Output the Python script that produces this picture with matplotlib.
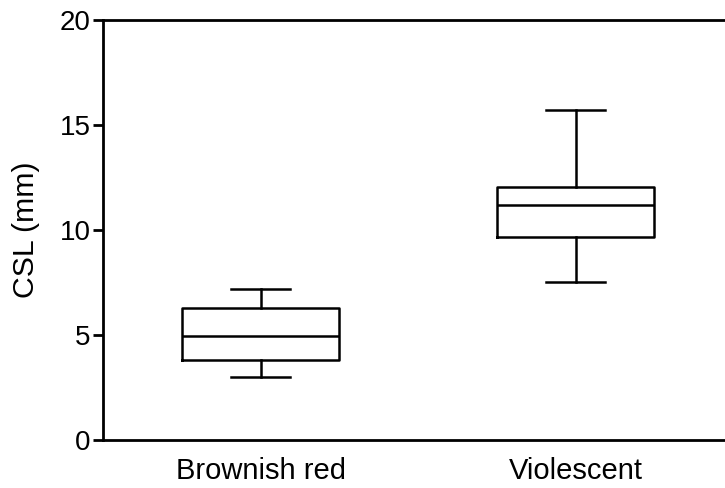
import matplotlib
matplotlib.use("Agg")
import matplotlib.pyplot as plt

plt.rcParams['font.family'] = ['Liberation Sans', 'DejaVu Sans']

categories = ["Brownish red", "Violescent"]
whisker_low = [2.98, 7.51]
q1 = [3.81, 9.68]
median = [4.97, 11.2]
q3 = [6.27, 12.03]
whisker_high = [7.19, 15.71]

stats = []
for i, c in enumerate(categories):
    stats.append(dict(label=c, whislo=whisker_low[i], q1=q1[i], med=median[i],
                      q3=q3[i], whishi=whisker_high[i], fliers=[]))

fig = plt.figure(figsize=(7.25, 4.88), dpi=100)
ax = fig.add_axes([103/725, 48/488, 630/725, 420/488])
lw = 1.8
ax.bxp(stats, positions=[1, 2], widths=0.5, capwidths=0.19, showfliers=False,
       boxprops=dict(color='black', linewidth=lw),
       medianprops=dict(color='black', linewidth=lw),
       whiskerprops=dict(color='black', linewidth=lw),
       capprops=dict(color='black', linewidth=lw))
ax.set_xlim(0.5, 2.5)
ax.set_ylim(0, 20)
ax.set_yticks([0, 5, 10, 15, 20])
for s in ax.spines.values():
    s.set_linewidth(2)
ax.spines['right'].set_visible(False)
ax.tick_params(axis='y', length=7, width=2, labelsize=20, pad=2)
ax.tick_params(axis='x', length=0, labelsize=21, pad=12)
ax.set_ylabel("CSL (mm)", fontsize=21.8, labelpad=14)
fig.savefig("out.png", dpi=100)
